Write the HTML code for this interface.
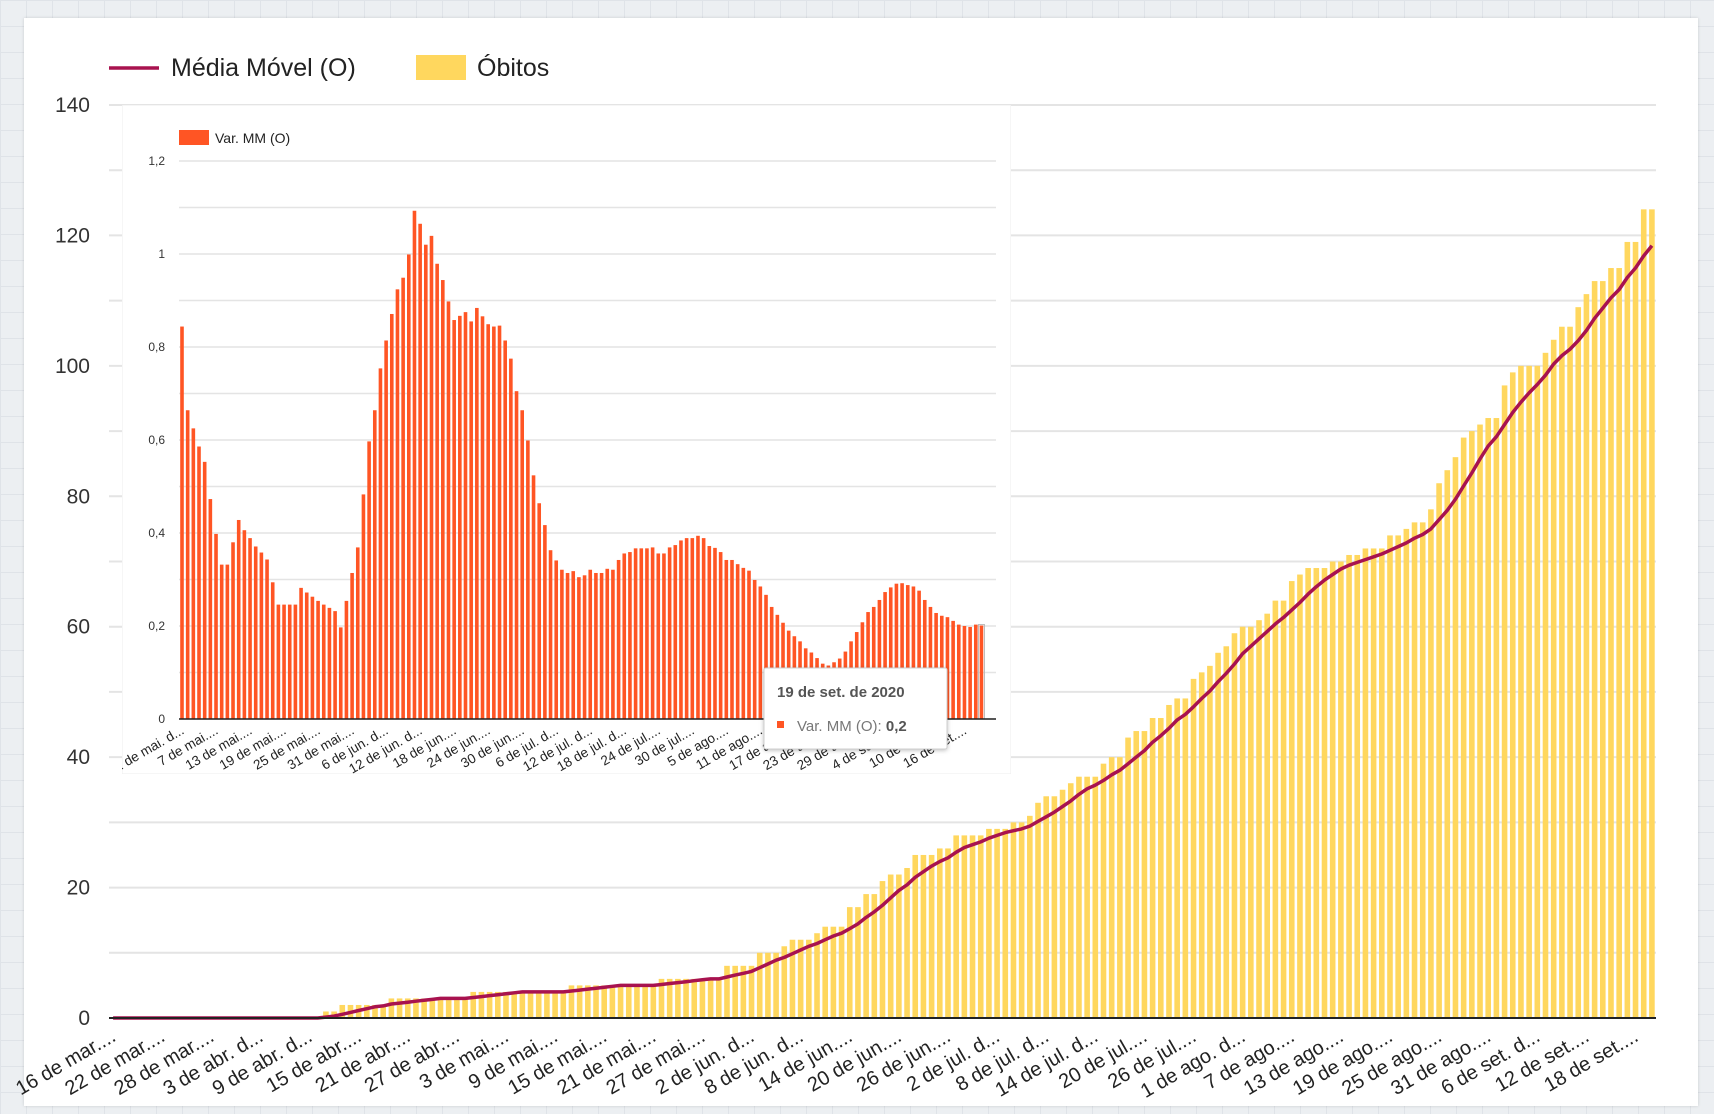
<!DOCTYPE html>
<html><head><meta charset="utf-8">
<style>
html,body{margin:0;padding:0;width:1714px;height:1114px;overflow:hidden;font-family:"Liberation Sans",sans-serif;
background-color:#eceff2;
background-image:linear-gradient(#dfe3e8 1px,transparent 1px),linear-gradient(90deg,#dfe3e8 1px,transparent 1px);
background-size:26px 26px;}
#card{position:absolute;left:24px;top:18px;width:1674px;height:1088px;background:#fff;box-shadow:0 0 3px rgba(0,0,0,.15);}
svg{position:absolute;left:0;top:0;}
</style></head><body>
<div id="card"></div>
<svg id="chart" width="1714" height="1114">
<defs><clipPath id="insetClip"><rect x="122" y="105" width="889" height="669"/></clipPath></defs>
</svg>
<script>
const deaths = [0,0,0,0,0,0,0,0,0,0,0,0,0,0,0,0,0,0,0,0,0,0,0,0,0,0,
1,1,2,2,2,2,2,2,3,3,3,3,3,3,3,3,3,3,4,4,4,4,4,4,4,4,4,4,4,4,
5,5,5,5,5,5,5,5,5,5,5,6,6,6,6,6,6,6,6,8,8,8,8,10,10,10,11,12,12,12,13,14,14,14,
17,17,19,19,21,22,22,23,25,25,25,26,26,28,28,28,28,29,29,29,30,30,31,33,34,34,35,36,37,37,37,
39,40,40,43,44,44,46,46,48,49,49,52,53,54,56,57,59,60,60,61,62,64,64,67,68,69,69,69,70,70,
71,71,72,72,72,74,74,75,76,76,78,82,84,86,89,90,91,92,92,97,99,100,100,100,102,104,106,106,
109,111,113,113,115,115,119,119,124,124];
const mainTicks = [0,20,40,60,80,100,120,140];
const mainLabels = ["16 de mar....","22 de mar....","28 de mar....","3 de abr. d...","9 de abr. d...","15 de abr....","21 de abr....","27 de abr....","3 de mai....","9 de mai....","15 de mai....","21 de mai....","27 de mai....","2 de jun. d...","8 de jun. d...","14 de jun....","20 de jun....","26 de jun....","2 de jul. d...","8 de jul. d...","14 de jul. d...","20 de jul....","26 de jul....","1 de ago. d...","7 de ago....","13 de ago....","19 de ago....","25 de ago....","31 de ago....","6 de set. d...","12 de set....","18 de set...."];
const variation = [0.844,0.664,0.625,0.586,0.553,0.473,0.398,0.332,0.332,0.380,0.428,0.406,0.389,0.371,0.358,0.343,0.294,0.246,0.246,0.246,0.246,0.282,0.272,0.263,0.254,0.246,0.239,0.232,0.197,0.254,0.314,0.369,0.483,0.597,0.664,0.754,0.814,0.871,0.924,0.949,0.999,1.093,1.065,1.020,1.039,0.979,0.944,0.898,0.858,0.867,0.875,0.855,0.884,0.866,0.849,0.844,0.846,0.814,0.775,0.705,0.664,0.599,0.524,0.464,0.417,0.363,0.341,0.321,0.314,0.318,0.305,
0.309,0.321,0.314,0.314,0.323,0.321,0.342,0.356,0.359,0.367,0.367,0.367,0.369,0.356,0.356,0.369,0.374,0.384,0.389,0.389,0.394,0.389,0.372,0.368,0.359,0.342,0.342,0.333,0.325,0.319,0.299,0.285,0.267,0.241,0.224,0.207,0.190,0.178,0.167,0.152,0.143,0.131,0.119,0.115,0.122,0.130,0.145,0.167,0.187,0.208,0.230,0.241,0.256,0.273,0.283,0.291,0.292,0.288,0.285,0.276,0.256,0.241,0.228,0.222,0.219,0.211,0.203,0.200,0.198,0.203,0.201];
const insetTicks = ["0","0,2","0,4","0,6","0,8","1","1,2"];
const insetTickValues = [0,0.2,0.4,0.6,0.8,1.0,1.2];
const insetLabels = ["1 de mai. d...","7 de mai....","13 de mai....","19 de mai....","25 de mai....","31 de mai....","6 de jun. d...","12 de jun. d...","18 de jun....","24 de jun....","30 de jun....","6 de jul. d...","12 de jul. d...","18 de jul. d...","24 de jul....","30 de jul....","5 de ago....","11 de ago....","17 de ago....","23 de ago....","29 de ago....","4 de set. d...","10 de set....","16 de set...."];

const NS="http://www.w3.org/2000/svg";
const svg=document.getElementById('chart');
function mk(tag,attrs,parent,text){const e=document.createElementNS(NS,tag);for(const k in attrs)e.setAttribute(k,attrs[k]);if(text!==undefined)e.textContent=text;(parent||svg).appendChild(e);return e;}

const X0=109,X1=1656,Y0=1018,YTOP=105,YMAX=140;
const step=(X1-X0)/deaths.length;
const xM=i=>X0+step*(i+0.5);
const yM=v=>Y0-(v/YMAX)*(Y0-YTOP);

for(let v=0;v<=YMAX;v+=10){
  const g=mk('line',{x1:X0,x2:X1,y1:yM(v),y2:yM(v),stroke:'#e4e4e4','stroke-width':2});
  
  
}
mainTicks.forEach(v=>{
  const t=mk('text',{x:90,y:yM(v)+7,'text-anchor':'end','font-size':21,fill:'#333'},svg,String(v));
  
  
});
deaths.forEach((v,i)=>{
  const r=mk('rect',{x:xM(i)-2.8,y:yM(v),width:5.6,height:Y0-yM(v),fill:'#ffd75e'});
  
  
});
const ma=deaths.map((v,i)=>{let s=0,n=0;for(let k=Math.max(0,i-6);k<=i;k++){s+=deaths[k];n++;}return s/n;});
const mp=mk('path',{d:ma.map((v,i)=>(i?'L':'M')+xM(i).toFixed(1)+','+yM(v).toFixed(1)).join(''),fill:'none',stroke:'#a8124f','stroke-width':3.5,'stroke-linejoin':'round'});


const ax=mk('line',{x1:X0,x2:X1,y1:Y0,y2:Y0,stroke:'#222','stroke-width':2});


mainLabels.forEach((s,j)=>{
  const x=xM(j*6)+4,y=Y0+22;
  const t=mk('text',{x:x,y:y,'text-anchor':'end','font-size':20,fill:'#222',transform:`rotate(-30 ${x} ${y})`},svg,s);
  
  
});

const lg=mk('g',{});


const l1=mk('line',{x1:109,x2:159,y1:68,y2:68,stroke:'#a8124f','stroke-width':3.5},lg);


const t1=mk('text',{x:171,y:76,'font-size':25,fill:'#222'},lg,'Média Móvel (O)');


const r2=mk('rect',{x:416,y:55,width:50,height:25,fill:'#ffd75e'},lg);


const t2=mk('text',{x:477,y:76,'font-size':25,fill:'#222'},lg,'Óbitos');



const ig=mk('g',{'clip-path':'url(#insetClip)'});


const ib=mk('rect',{x:122,y:105,width:889,height:669,fill:'#fff',stroke:'#eeeeee','stroke-width':1},ig);


const IX0=179,IX1=996,IY0=719,IYT=161,IMAX=1.2;
const istep=5.67;
const xI=i=>182+istep*i;
const yI=v=>IY0-(v/IMAX)*(IY0-IYT);
for(let k=0;k<=12;k++){
  const v=k*0.1;
  const g=mk('line',{x1:IX0,x2:IX1,y1:yI(v),y2:yI(v),stroke:'#e4e4e4','stroke-width':1.5},ig);
  
  
}
insetTickValues.forEach((v,j)=>{
  const t=mk('text',{x:165,y:yI(v)+4,'text-anchor':'end','font-size':12,fill:'#333'},ig,insetTicks[j]);
  
  
});
variation.forEach((v,i)=>{
  const r=mk('rect',{x:xI(i)-1.8,y:yI(v),width:3.6,height:IY0-yI(v),fill:'#ff5524'},ig);
  
  
});
const hl=mk('rect',{x:xI(variation.length-1)-3,y:yI(variation[variation.length-1])-1,width:6,height:IY0-yI(variation[variation.length-1])+1,fill:'none',stroke:'#bbb','stroke-width':1},ig);


const iax=mk('line',{x1:IX0,x2:IX1,y1:IY0,y2:IY0,stroke:'#222','stroke-width':1.5},ig);


insetLabels.forEach((s,j)=>{
  const x=xI(j*6)+3,y=IY0+14;
  const t=mk('text',{x:x,y:y,'text-anchor':'end','font-size':13.5,fill:'#222',transform:`rotate(-30 ${x} ${y})`},ig,s);
  
  
});
const ilr=mk('rect',{x:179,y:130,width:30,height:15,fill:'#ff5524'},ig);


const ilt=mk('text',{x:215,y:143,'font-size':14,fill:'#222'},ig,'Var. MM (O)');



const tg=mk('g',{});


const tb=mk('rect',{x:764,y:668,width:183,height:81,rx:2,fill:'#fff',stroke:'#cfcfcf','stroke-width':1,style:'filter:drop-shadow(0 1px 2px rgba(0,0,0,.25))'},tg);


const tt=mk('text',{x:777,y:697,'font-size':15,'font-weight':'bold',fill:'#555'},tg,'19 de set. de 2020');


const ts=mk('rect',{x:777,y:721,width:7,height:7,fill:'#ff5524'},tg);


const tv=mk('text',{x:797,y:731,'font-size':15,fill:'#777'},tg);


tv.appendChild(document.createTextNode('Var. MM (O): '));
const tvb=mk('tspan',{'font-weight':'bold',fill:'#555'},tv,String(variation[variation.length-1].toFixed(1)).replace('.',','));
</script>
</body></html>
